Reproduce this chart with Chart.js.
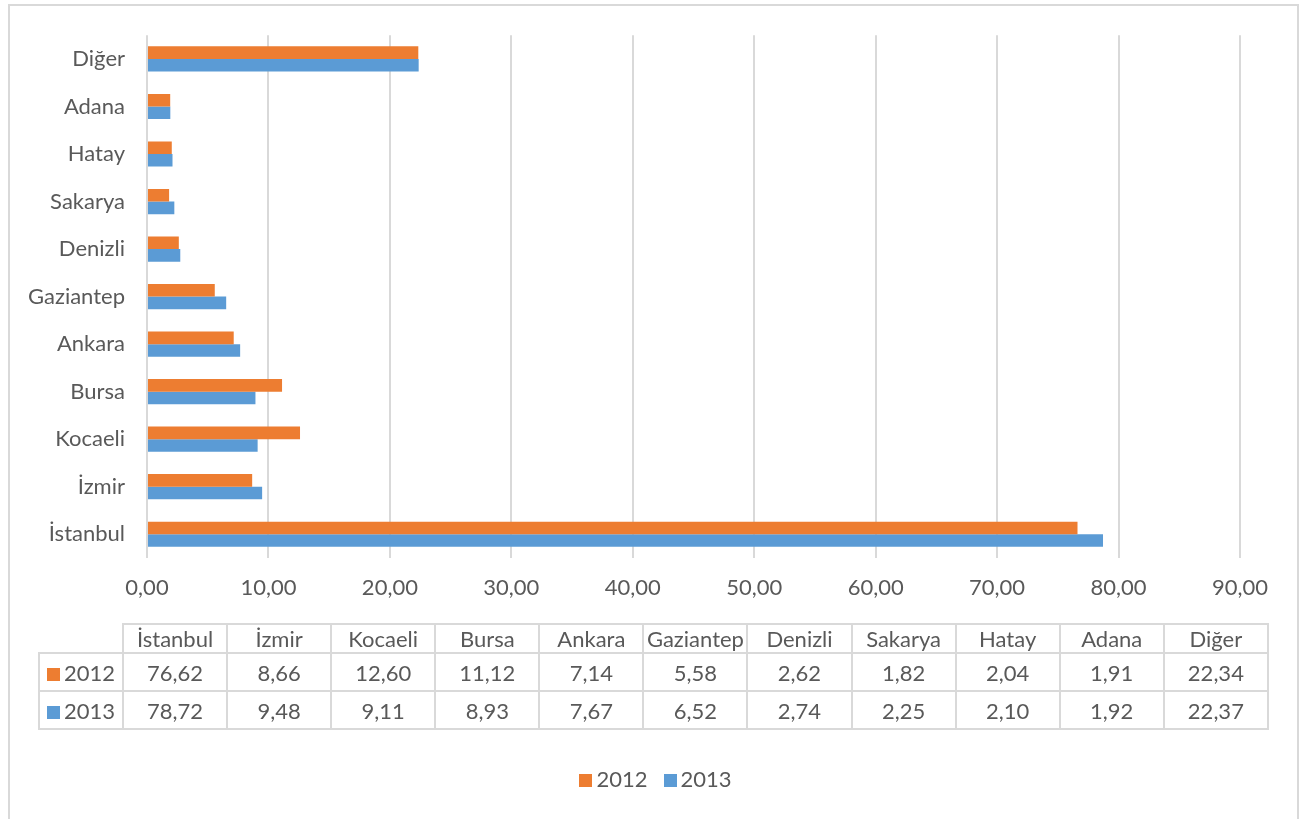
<!DOCTYPE html>
<html lang="tr">
<head>
  <meta charset="UTF-8">
  <title>İller 2012-2013</title>
  <script src="https://cdn.jsdelivr.net/npm/chart.js"></script>
  <style>
    body { margin: 0; background: #fff; font-family: Lato, "Noto Sans", sans-serif; color: #595959; }
    #wrap { position: relative; width: 1311px; height: 819px; overflow: hidden; }
    #frame { position: absolute; left: 8px; top: 4px; width: 1287px; height: 840px; border: 2px solid #d9d9d9; }
    #chart { position: absolute; left: 0; top: 0; }
    #tbl { position: absolute; left: 38px; top: 623px; width: 1231px; table-layout: fixed; border-collapse: collapse; font-size: 22px; }
    #tbl td { border: 2px solid #d9d9d9; text-align: center; padding: 0; white-space: nowrap; }
    #tbl tr.head td { height: 27px; }
    #tbl tr.row td { height: 36px; }
    #tbl td.blank { border-top: none; border-left: none; }
    #tbl td.ser { text-align: left; padding-left: 7px; }
    .sw { display: inline-block; width: 13px; height: 13px; margin-right: 4px; }
    #legend { position: absolute; left: 0; width: 1311px; top: 765px; text-align: center; font-size: 22px; }
    #legend span.item { margin: 0 8px; }
  </style>
</head>
<body>
<div id="wrap">
  <div id="frame"></div>
  <canvas id="chart" width="1311" height="819"></canvas>
  <table id="tbl"></table>
  <div id="legend"></div>
</div>
<script>
  // cities, in table order (bottom to top on the chart)
  const cities = ['İstanbul', 'İzmir', 'Kocaeli', 'Bursa', 'Ankara', 'Gaziantep', 'Denizli', 'Sakarya', 'Hatay', 'Adana', 'Diğer'];
  const years = ['2012', '2013'];
  const values2012 = [76.62, 8.66, 12.60, 11.12, 7.14, 5.58, 2.62, 1.82, 2.04, 1.91, 22.34];
  const values2013 = [78.72, 9.48, 9.11, 8.93, 7.67, 6.52, 2.74, 2.25, 2.10, 1.92, 22.37];
  const colors = ['#ED7D31', '#5B9BD5'];

  const fmt = v => v.toFixed(2).replace('.', ',');
  const font = { family: 'Lato, "Noto Sans", sans-serif', size: 22 };

  new Chart(document.getElementById('chart'), {
    type: 'bar',
    data: {
      labels: cities,
      datasets: [
        { label: years[0], data: values2012, backgroundColor: colors[0] },
        { label: years[1], data: values2013, backgroundColor: colors[1] }
      ]
    },
    options: {
      indexAxis: 'y',
      responsive: false,
      animation: false,
      barPercentage: 1,
      categoryPercentage: 0.53,
      layout: { padding: { left: 0, top: 32, right: 71, bottom: 219 } },
      plugins: { legend: { display: false }, tooltip: { enabled: false } },
      scales: {
        x: {
          min: 0, max: 90,
          ticks: { stepSize: 10, color: '#595959', font: font, padding: 17, callback: v => fmt(v) },
          grid: { color: '#d9d9d9', lineWidth: 2, drawTicks: false },
          border: { display: false },
          afterFit: s => { s.height = 42; }
        },
        y: {
          reverse: true,
          ticks: { color: '#595959', font: font, padding: 22 },
          grid: { display: false, drawTicks: false },
          border: { display: false },
          afterFit: s => { s.width = 147; }
        }
      }
    }
  });

  // data table below the chart
  const tbl = document.getElementById('tbl');
  let html = '<tr class="head"><td class="blank" style="width:83px"></td>' +
    cities.map(() => '').join('') +
    cities.map(c => '<td>' + c + '</td>').join('') + '</tr>';
  [values2012, values2013].forEach((vals, i) => {
    html += '<tr class="row"><td class="ser"><span class="sw" style="background:' + colors[i] + '"></span>' + years[i] + '</td>' +
      vals.map(v => '<td>' + fmt(v) + '</td>').join('') + '</tr>';
  });
  tbl.innerHTML = html;

  document.getElementById('legend').innerHTML = years.map((y, i) =>
    '<span class="item"><span class="sw" style="background:' + colors[i] + '"></span>' + y + '</span>').join('');
</script>
</body>
</html>
